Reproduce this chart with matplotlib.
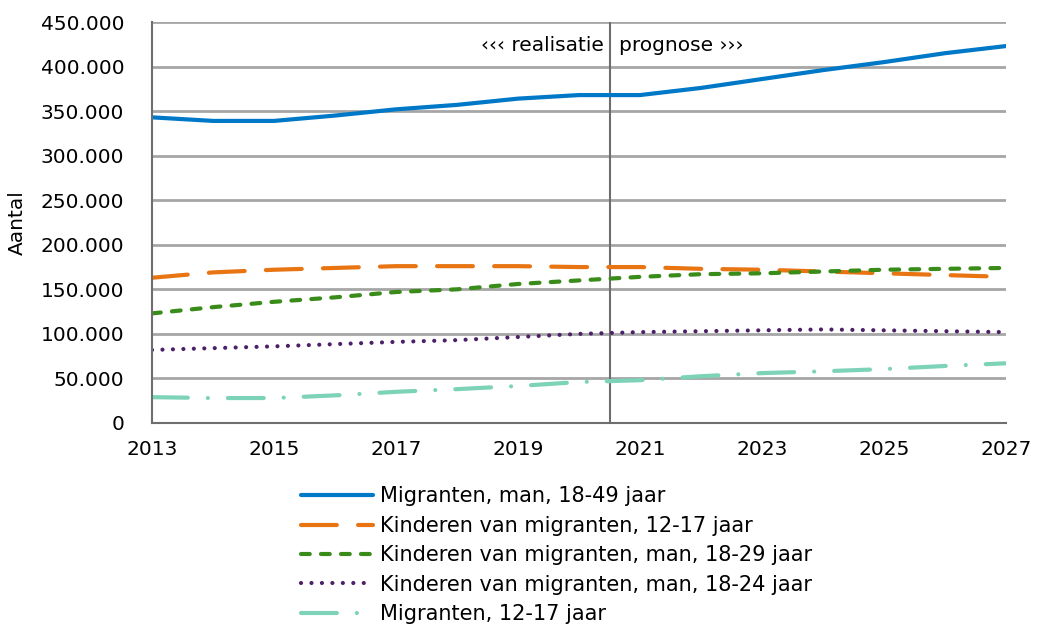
import matplotlib
matplotlib.use("Agg")
import matplotlib.pyplot as plt
from matplotlib.ticker import FuncFormatter, MultipleLocator

# Data
years = list(range(2013, 2028))
migr_man_18_49 = [343000, 339000, 339000, 345000, 352000, 357000, 364000, 368000,
                  368000, 376000, 386000, 396000, 405000, 415000, 423000]
kind_12_17 = [163000, 169000, 172000, 174000, 176000, 176000, 176000, 175000,
              175000, 173000, 172000, 170000, 168000, 166000, 164000]
kind_man_18_29 = [123000, 130000, 136000, 141000, 147000, 150000, 156000, 160000,
                  164000, 167000, 168000, 170000, 172000, 173000, 174000]
kind_man_18_24 = [82000, 84000, 86000, 88500, 91000, 93000, 96500, 100000,
                  102000, 103000, 104000, 105000, 104000, 103000, 102000]
migr_12_17 = [29000, 28000, 28000, 31000, 35000, 38000, 41500, 46000,
              48000, 52500, 56000, 58000, 60500, 64000, 67000]

labels = ["Migranten, man, 18-49 jaar",
          "Kinderen van migranten, 12-17 jaar",
          "Kinderen van migranten, man, 18-29 jaar",
          "Kinderen van migranten, man, 18-24 jaar",
          "Migranten, 12-17 jaar"]

plt.rcParams['font.family'] = ['DejaVu Sans']

fig = plt.figure(figsize=(10.38, 6.29), dpi=100)
ax = fig.add_axes([152 / 1038, 1 - 423 / 629, (1006 - 152) / 1038, (423 - 22) / 629])

lw = 3.0
ax.plot(years, migr_man_18_49, color='#0078c8', linewidth=lw, label=labels[0],
        solid_capstyle='round')
ax.plot(years, kind_12_17, color='#e87511', linewidth=lw, label=labels[1],
        linestyle=(0, (8.6, 5.1)), dash_capstyle='round')
ax.plot(years, kind_man_18_29, color='#3a8c1a', linewidth=lw, label=labels[2],
        linestyle=(0, (2.1, 2.7)), dash_capstyle='round')
ax.plot(years, kind_man_18_24, color='#4b2068', linewidth=lw, label=labels[3],
        linestyle=(0, (0.01, 2.5)), dash_capstyle='round')
ax.plot(years, migr_12_17, color='#7dd3b8', linewidth=lw, label=labels[4],
        linestyle=(0, (8.6, 4.8, 0.01, 4.8)), dash_capstyle='round')

# boundary between realisation and forecast
ax.axvline(2020.5, color='#6e6e6e', linewidth=1.5, zorder=1)
ax.text(2020.4, 424000, "\u2039\u2039\u2039 realisatie", ha='right', va='center', fontsize=14.5)
ax.text(2020.65, 424000, "prognose \u203a\u203a\u203a", ha='left', va='center', fontsize=14.5)

ax.set_xlim(2013, 2027)
ax.set_ylim(0, 450000)
ax.set_xticks(range(2013, 2028, 2))
ax.yaxis.set_major_locator(MultipleLocator(50000))
ax.yaxis.set_major_formatter(FuncFormatter(lambda v, p: f"{int(v):,}".replace(",", ".")))
ax.grid(True, axis='y', color='#a6a6a6', linewidth=2)
ax.set_axisbelow(True)
ax.tick_params(length=0, labelsize=14.5)
ax.tick_params(axis='y', pad=20)
ax.tick_params(axis='x', pad=12)
for s in ['top', 'right']:
    ax.spines[s].set_visible(False)
for s in ['left', 'bottom']:
    ax.spines[s].set_color('#6e6e6e')
    ax.spines[s].set_linewidth(1.5)
ax.set_ylabel("Aantal", fontsize=14.5, labelpad=10)

ax.legend(loc='upper left', bbox_to_anchor=(291 / 1038, 1 - 476 / 629),
          bbox_transform=fig.transFigure, frameon=False, fontsize=15,
          handlelength=3.45, handletextpad=0.3, labelspacing=0.45, borderpad=0)

fig.savefig("out.png", dpi=100)
